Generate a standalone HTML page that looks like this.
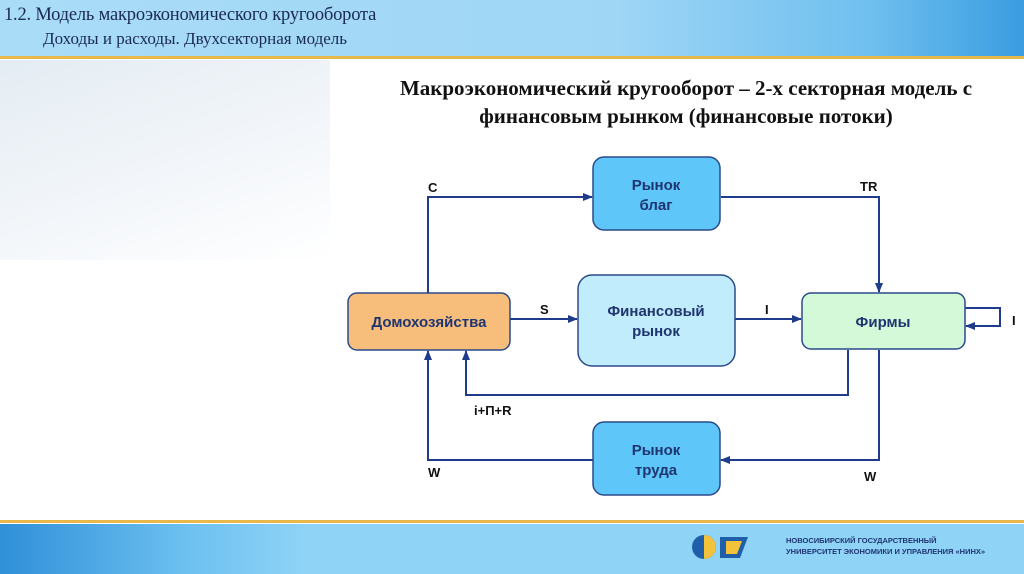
<!DOCTYPE html>
<html><head><meta charset="utf-8"><style>
html,body{margin:0;padding:0}
body{width:1024px;height:574px;position:relative;overflow:hidden;background:#fff;font-family:"Liberation Sans",sans-serif}
.hdr{position:absolute;left:0;top:0;width:1024px;height:56px;background:linear-gradient(90deg,#a9dcf7 0%,#9fd6f6 60%,#6fbfef 85%,#3a9de0 100%)}
.gl{position:absolute;left:0;width:1024px;height:3px;background:#e8b84a}
.ftr{position:absolute;left:0;top:524px;width:1024px;height:50px;background:linear-gradient(90deg,#2f8fd8 0%,#6cc0f0 18%,#8fd3f7 30%,#8fd3f7 100%)}
.h1{position:absolute;left:4px;top:5px;font-family:"Liberation Serif",serif;font-size:18.5px;color:#1a2a55;letter-spacing:-0.2px}
.h2{position:absolute;left:43px;top:29px;font-family:"Liberation Serif",serif;font-size:17px;color:#1a2a55}
.title{position:absolute;left:340px;width:692px;top:74px;text-align:center;font-family:"Liberation Serif",serif;font-size:21px;line-height:28px;color:#111;font-weight:bold}
.bg{position:absolute;left:0;top:60px;width:330px;height:200px;background:linear-gradient(160deg,#e4ecf3 0%,#f1f5f9 50%,#fff 100%)}
</style></head><body>
<div class="hdr"></div>
<div class="gl" style="top:56px"></div>
<div class="bg"></div>
<div class="h1">1.2. Модель макроэкономического кругооборота</div>
<div class="h2">Доходы и расходы. Двухсекторная модель</div>
<div class="title">Макроэкономический кругооборот – 2-х секторная модель с<br>финансовым рынком (финансовые потоки)</div>
<div class="gl" style="top:520px;height:3px"></div>
<div class="ftr"></div>
<svg style="position:absolute;left:0;top:0" width="1024" height="574">
<defs><marker id="a" markerWidth="10" markerHeight="10" refX="9" refY="5" orient="auto" markerUnits="userSpaceOnUse"><path d="M0,1 L10,5 L0,9 z" fill="#1f3b8c"/></marker></defs>
<g fill="none" stroke="#1f3b8c" stroke-width="2">
<path d="M428,293 V197 H592" marker-end="url(#a)"/>
<path d="M721,197 H879 V292" marker-end="url(#a)"/>
<path d="M510,319 H577" marker-end="url(#a)"/>
<path d="M735,319 H801" marker-end="url(#a)"/>
<path d="M965,308 H1000 V326 H966" marker-end="url(#a)"/>
<path d="M848,350 V395 H466 V351" marker-end="url(#a)"/>
<path d="M879,350 V460 H721" marker-end="url(#a)"/>
<path d="M593,460 H428 V351" marker-end="url(#a)"/>
</g>
<g stroke="#2a4a8a" stroke-width="1.5">
<rect x="593" y="157" width="127" height="73" rx="11" fill="#5ec6f9"/>
<rect x="348" y="293" width="162" height="57" rx="9" fill="#f7bd7b"/>
<rect x="578" y="275" width="157" height="91" rx="14" fill="#c1ecfb"/>
<rect x="802" y="293" width="163" height="56" rx="9" fill="#d4f9d8"/>
<rect x="593" y="422" width="127" height="73" rx="11" fill="#5ec6f9"/>
</g>
<g font-family="Liberation Sans,sans-serif" font-weight="bold" text-anchor="middle" fill="#1f3570" font-size="15">
<text x="656" y="190">Рынок</text><text x="656" y="210">благ</text>
<text x="429" y="327">Домохозяйства</text>
<text x="656" y="316">Финансовый</text><text x="656" y="336">рынок</text>
<text x="883" y="327">Фирмы</text>
<text x="656" y="455">Рынок</text><text x="656" y="475">труда</text>
</g>
<g font-family="Liberation Sans,sans-serif" font-weight="bold" fill="#111" font-size="13">
<text x="428" y="192">C</text>
<text x="860" y="191">TR</text>
<text x="540" y="314">S</text>
<text x="765" y="314">I</text>
<text x="1012" y="325">I</text>
<text x="474" y="415">i+П+R</text>
<text x="428" y="477">W</text>
<text x="864" y="481">W</text>
</g>
<g transform="translate(690,534)">
<circle cx="14" cy="13" r="12" fill="#1f5fa8"/>
<path d="M14,1 A12,12 0 0 1 14,25 z" fill="#f2c23a"/>
<path d="M30,3 H58 L50,24 H30 z" fill="#1f5fa8"/>
<path d="M36,7 H52 L47,20 H36 z" fill="#f2c23a"/>
</g>
<g font-family="Liberation Sans,sans-serif" font-weight="bold" fill="#1f3570" font-size="7.5">
<text x="786" y="543">НОВОСИБИРСКИЙ ГОСУДАРСТВЕННЫЙ</text>
<text x="786" y="554">УНИВЕРСИТЕТ ЭКОНОМИКИ И УПРАВЛЕНИЯ «НИНХ»</text>
</g>
</svg>
</body></html>
